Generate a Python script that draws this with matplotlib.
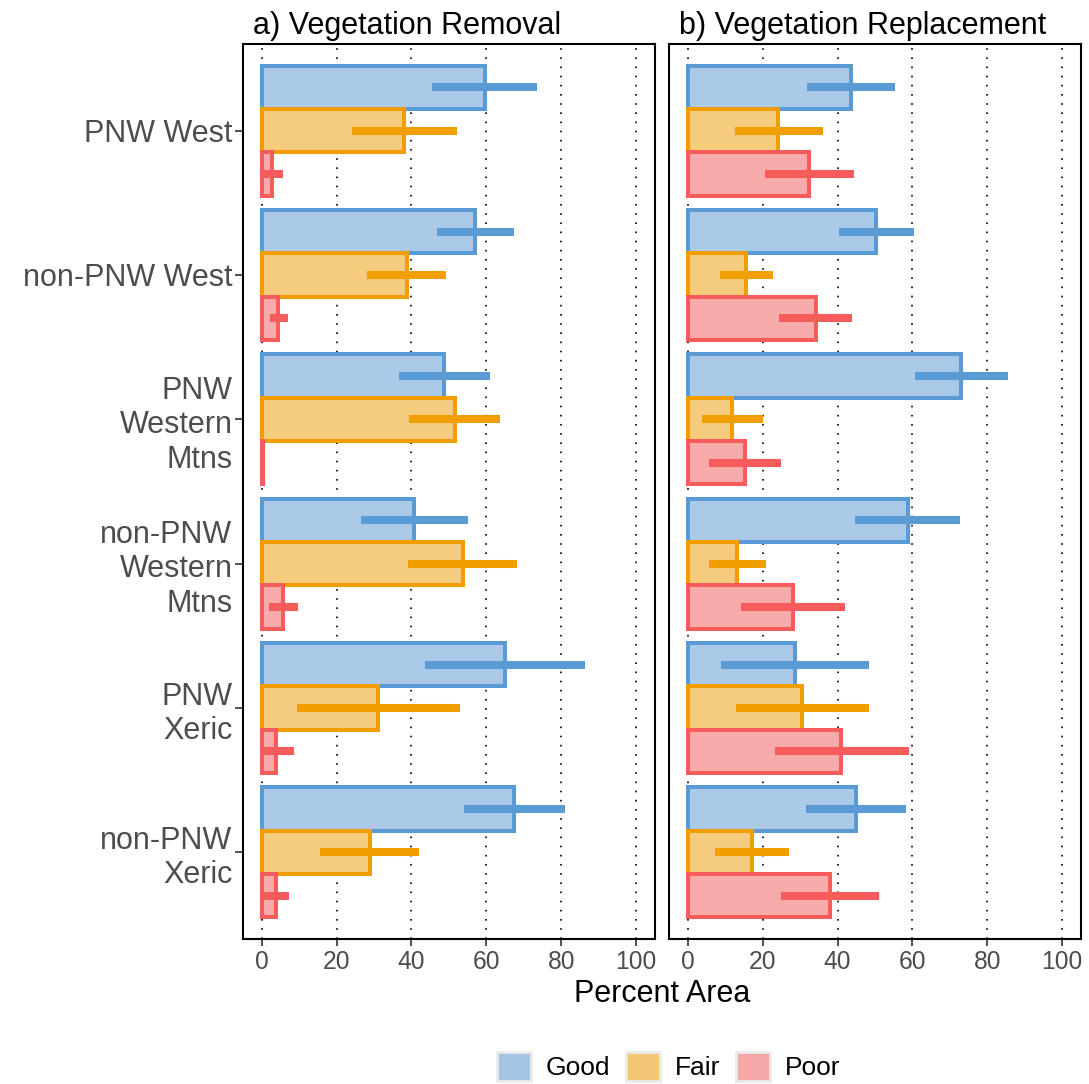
import numpy as np
import matplotlib.pyplot as plt
from matplotlib.patches import Patch

plt.rcParams['font.family'] = ['Liberation Sans', 'DejaVu Sans']

regions = ['PNW West', 'non-PNW West', 'PNW\nWestern\nMtns',
           'non-PNW\nWestern\nMtns', 'PNW\nXeric', 'non-PNW\nXeric']
conditions = ['Good', 'Fair', 'Poor']

# percent area per region (rows) and condition (Good, Fair, Poor)
removal = [[59.6, 38.0, 2.7],
           [57.0, 38.8, 4.4],
           [48.6, 51.5, 0.3],
           [40.8, 53.7, 5.6],
           [65.1, 31.1, 3.8],
           [67.5, 28.8, 3.8]]
removal_lo = [[45.6, 24.0, 0.0],
              [46.7, 28.2, 2.1],
              [36.6, 39.3, 0.0],
              [26.6, 39.1, 1.9],
              [43.7, 9.5, 0.0],
              [54.0, 15.6, 0.0]]
removal_hi = [[73.5, 52.1, 5.7],
              [67.3, 49.2, 7.0],
              [60.9, 63.5, 0.5],
              [55.0, 68.2, 9.6],
              [86.4, 52.9, 8.5],
              [81.1, 42.1, 7.2]]

replacement = [[43.6, 24.2, 32.4],
               [50.4, 15.6, 34.2],
               [73.0, 11.8, 15.4],
               [58.7, 13.2, 28.0],
               [28.6, 30.5, 41.0],
               [44.9, 17.1, 38.1]]
replacement_lo = [[31.8, 12.6, 20.6],
                  [40.5, 8.6, 24.5],
                  [60.7, 3.7, 5.8],
                  [44.8, 5.7, 14.3],
                  [9.0, 12.9, 23.2],
                  [31.7, 7.4, 25.0]]
replacement_hi = [[55.4, 36.0, 44.3],
                  [60.4, 22.7, 43.8],
                  [85.4, 20.0, 24.9],
                  [72.8, 20.9, 42.1],
                  [48.3, 48.5, 59.1],
                  [58.4, 27.0, 51.2]]

line_cols = ['#5B9BD5', '#F09E00', '#F65C5C']
fill_cols = ['#ABCAE8', '#F5CC7D', '#F8ABAB']
key_cols = ['#A6C5E4', '#F2C877', '#F5A6A6']

BAR_W = 0.3
offsets = [BAR_W, 0.0, -BAR_W]


def draw_panel(ax, vals, lo, hi, title):
    vals, lo, hi = np.array(vals), np.array(lo), np.array(hi)
    n = len(regions)
    ypos = n - np.arange(n)
    for x in range(0, 101, 20):
        ax.axvline(x, color='black', lw=1.2, ls=(0, (1, 4.5)), zorder=0)
    for k in range(3):
        ax.barh(ypos + offsets[k], vals[:, k], height=BAR_W,
                color=fill_cols[k], edgecolor=line_cols[k], linewidth=2.9, zorder=2 + k)
    for k in range(3):
        ax.hlines(ypos + offsets[k], lo[:, k], hi[:, k], color=line_cols[k],
                  lw=5.8, zorder=6)
    ax.set_xlim(-5, 105)
    ax.set_ylim(0.4, n + 0.6)
    ax.set_xticks(range(0, 101, 20))
    ax.tick_params(axis='x', labelsize=17.7, labelcolor='#4D4D4D', color='#333333',
                   length=5, width=1.2, pad=3)
    for s in ax.spines.values():
        s.set_linewidth(1.5)
    ax.set_title(title, loc='left', fontsize=22, pad=7, x=0.025)
    return ypos


fig = plt.figure(figsize=(10.89, 10.84), dpi=100)
ax1 = fig.add_axes([0.2231, 0.1338, 0.3783, 0.8256])
ax2 = fig.add_axes([0.6143, 0.1338, 0.3783, 0.8256])

ypos = draw_panel(ax1, removal, removal_lo, removal_hi, 'a) Vegetation Removal')
draw_panel(ax2, replacement, replacement_lo, replacement_hi, 'b) Vegetation Replacement')

ax1.set_yticks(ypos)
ax1.set_yticklabels(regions, fontsize=22, color='#4D4D4D', linespacing=1.2)
ax1.tick_params(axis='y', color='#333333', length=6, width=1.2, pad=1.5)
ax2.set_yticks([])

fig.text(0.608, 0.083, 'Percent Area', ha='center', va='center', fontsize=22)

handles = [Patch(facecolor=key_cols[k], edgecolor='#EBEBEB', linewidth=2, label=conditions[k])
           for k in range(3)]
fig.legend(handles=handles, loc='lower center', bbox_to_anchor=(0.614, -0.019), ncol=3,
           frameon=False, fontsize=19, handlelength=1.3, handleheight=1.3,
           handletextpad=0.55, columnspacing=0.6)

fig.savefig('out.png', dpi=100)
